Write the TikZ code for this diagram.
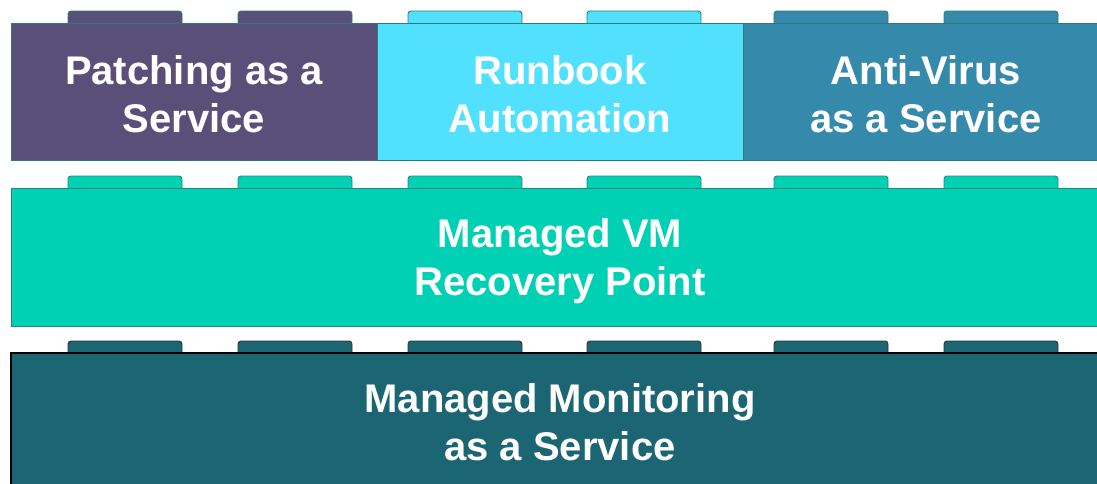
\documentclass[tikz,border=0pt]{standalone}
\usepackage{fontspec}
\setmainfont{Liberation Sans}
\definecolor{cpurple}{HTML}{594F78}
\definecolor{ccyan}{HTML}{52E0FF}
\definecolor{cblue}{HTML}{358AAB}
\definecolor{cteal}{HTML}{00D1B5}
\definecolor{cdark}{HTML}{1B6672}
\definecolor{edgeA}{HTML}{2B7C78}
\definecolor{edgeB}{HTML}{1F8A7C}
\begin{document}
\begin{tikzpicture}[x=1pt,y=-1pt,
  block/.style={draw=edgeA, line width=0.9pt, inner sep=0pt, outer sep=0pt},
  lbl/.style={text=white, align=center, inner sep=0pt, font=\bfseries\fontsize{40}{48}\selectfont},
  tabshape/.style={line width=0.9pt, rounded corners=3pt}]
\useasboundingbox (0,0) rectangle (1097,483);
\clip (0,0) rectangle (1097,483);
% tabs
\foreach \a/\b in {68/182,238/352,408/522,587/701,774/888,944/1058}{
  \path[fill=cteal, draw=edgeB, tabshape] (\a,194) |- (\b,176) -- (\b,194);
  \path[fill=cdark, draw=black!80, tabshape] (\a,359) |- (\b,341) -- (\b,359);
}
\foreach \a/\b/\c in {68/182/cpurple,238/352/cpurple,408/522/ccyan,587/701/ccyan,774/888/cblue,944/1058/cblue}{
  \path[fill=\c, draw=edgeA, tabshape] (\a,29) |- (\b,11) -- (\b,29);
}
% blocks
\node[block, fill=cpurple, minimum width=366pt, minimum height=137pt] (pat) at (194,91.5) {};
\node[block, fill=ccyan, minimum width=366pt, minimum height=137pt] (run) at (560,91.5) {};
\node[block, fill=cblue, minimum width=366pt, minimum height=137pt] (av) at (926,91.5) {};
\node[block, draw=edgeB, fill=cteal, minimum width=1098pt, minimum height=138pt] (vm) at (560,257) {};
\node[block, draw=black, line width=1.2pt, fill=cdark, minimum width=1098pt, minimum height=138pt] (mon) at (560,422) {};
% labels
\node[lbl] (patT) at (194,94) {Patching as a\\Service};
\node[lbl] (runT) at (560,94) {Runbook\\Automation};
\node[lbl] (avT) at (926,94) {Anti-Virus\\as a Service};
\node[lbl] (vmT) at (560,261) {Managed VM\\Recovery Point};
\node[lbl] (monT) at (560,422.5) {Managed Monitoring\\as a Service};
\end{tikzpicture}
\end{document}
